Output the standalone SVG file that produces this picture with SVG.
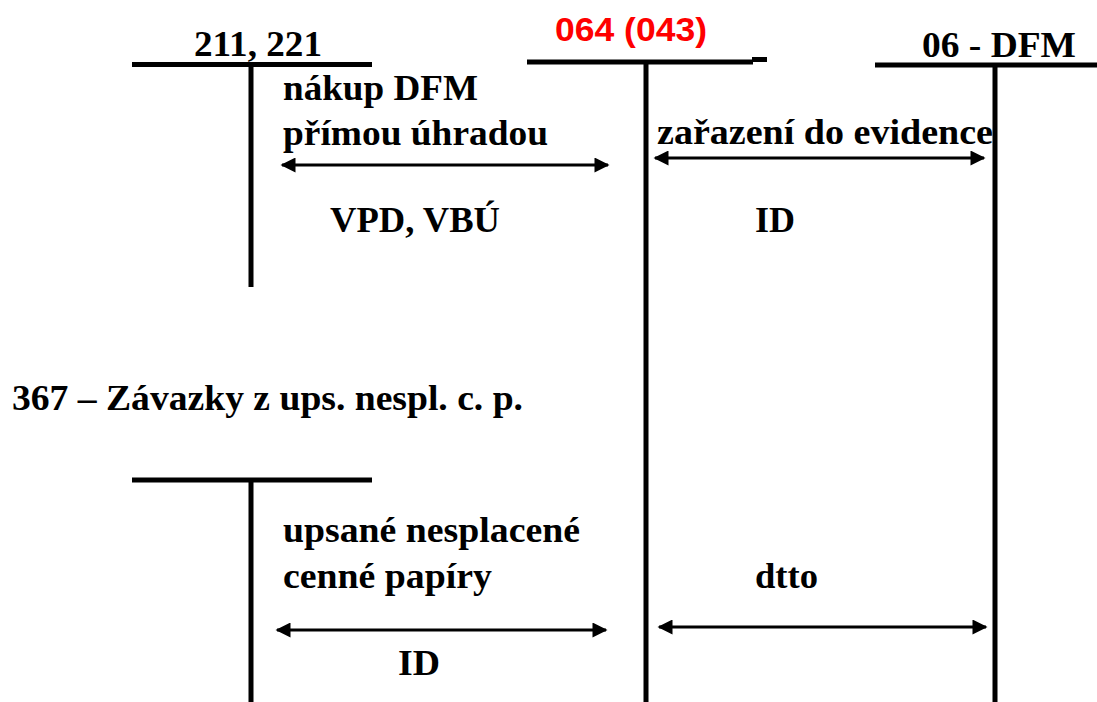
<svg xmlns="http://www.w3.org/2000/svg" width="1097" height="702" viewBox="0 0 1097 702">
<defs>
<style>
.t{font-family:"Liberation Serif","Times New Roman",serif;font-weight:bold;font-size:36px;fill:#000}
.r{font-family:"Liberation Sans",Arial,sans-serif;font-weight:bold;font-size:34px;fill:#ff0000}
.ln{stroke:#000;stroke-width:5;fill:none}
.ar{stroke:#000;stroke-width:3;fill:none;marker-start:url(#ah);marker-end:url(#ah)}
</style>
<marker id="ah" viewBox="0 0 10 10" refX="9" refY="5" markerWidth="5.5" markerHeight="5" markerUnits="strokeWidth" orient="auto-start-reverse">
<path d="M0,0 L10,5 L0,10 z" fill="#000"/>
</marker>
</defs>
<rect width="1097" height="702" fill="#fff"/>
<g id="acc-211-221">
<line class="ln" x1="132" y1="64.5" x2="372" y2="64.5"/>
<line class="ln" x1="251" y1="64" x2="251" y2="287"/>
<text class="t" x="194" y="56" textLength="128" lengthAdjust="spacingAndGlyphs">211, 221</text>
</g>
<g id="acc-064">
<line class="ln" x1="527" y1="62" x2="753" y2="62"/>
<rect x="752" y="57" width="15" height="5" fill="#000"/>
<line class="ln" x1="646" y1="62" x2="646" y2="702"/>
<text class="r" x="555" y="41" textLength="152" lengthAdjust="spacingAndGlyphs">064 (043)</text>
</g>
<g id="acc-06-dfm">
<line class="ln" x1="875" y1="65" x2="1097" y2="65"/>
<line class="ln" x1="995" y1="65" x2="995" y2="702"/>
<text class="t" x="922" y="57" textLength="154" lengthAdjust="spacingAndGlyphs">06 - DFM</text>
</g>
<g id="acc-367">
<text class="t" x="12" y="410" textLength="511" lengthAdjust="spacingAndGlyphs">367 – Závazky z ups. nespl. c. p.</text>
<line class="ln" x1="132" y1="480" x2="372" y2="480"/>
<line class="ln" x1="251" y1="480" x2="251" y2="702"/>
</g>
<g id="labels">
<text class="t" x="283" y="100" textLength="195" lengthAdjust="spacingAndGlyphs">nákup DFM</text>
<text class="t" x="283" y="145" textLength="265" lengthAdjust="spacingAndGlyphs">přímou úhradou</text>
<text class="t" x="330" y="232" textLength="170" lengthAdjust="spacingAndGlyphs">VPD, VBÚ</text>
<text class="t" x="657" y="144" textLength="336" lengthAdjust="spacingAndGlyphs">zařazení do evidence</text>
<text class="t" x="755" y="232" textLength="40" lengthAdjust="spacingAndGlyphs">ID</text>
<text class="t" x="283" y="542" textLength="297" lengthAdjust="spacingAndGlyphs">upsané nesplacené</text>
<text class="t" x="283" y="588" textLength="209" lengthAdjust="spacingAndGlyphs">cenné papíry</text>
<text class="t" x="755" y="588" textLength="63" lengthAdjust="spacingAndGlyphs">dtto</text>
<text class="t" x="398" y="675" textLength="42" lengthAdjust="spacingAndGlyphs">ID</text>
</g>
<g id="connectors">
<line class="ar" x1="282" y1="165" x2="608" y2="165"/>
<line class="ar" x1="655" y1="158" x2="984" y2="158"/>
<line class="ar" x1="277" y1="630" x2="606" y2="630"/>
<line class="ar" x1="659" y1="627" x2="986" y2="627"/>
</g>
</svg>
